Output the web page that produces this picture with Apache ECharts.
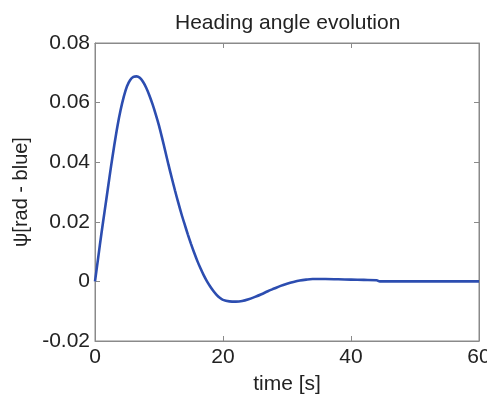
<!DOCTYPE html>
<html>
<head>
<meta charset="utf-8">
<script src="https://cdn.jsdelivr.net/npm/echarts@6/dist/echarts.min.js"></script>
<style>
html,body{margin:0;padding:0;background:#fff;}
#chart{width:487px;height:398px;}
</style>
</head>
<body>
<div id="chart"></div>
<script>
var titleText = 'Heading angle evolution';
var xAxisTitle = 'time [s]';
var yAxisTitle = 'ψ[rad - blue]';
var xTickValues = [0, 20, 40, 60];
var yTickValues = [-0.02, 0, 0.02, 0.04, 0.06, 0.08];

var timeValues = [0, 0.5, 1, 1.5, 2, 2.5, 3, 3.5, 4, 4.5, 5, 5.5, 6, 6.5, 7, 7.5, 8, 8.5, 9, 9.5, 10, 10.5, 11, 11.5, 12, 12.5, 13, 13.5, 14, 14.5, 15, 15.5, 16, 16.5, 17, 17.5, 18, 18.5, 19, 19.5, 20, 21, 22, 23, 24, 25, 26, 27, 28, 29, 30, 31, 32, 33, 34, 36, 38, 40, 42, 44, 44.5, 50, 55, 60];
var psiValues = [0, 0.008, 0.016, 0.0235, 0.031, 0.0385, 0.0455, 0.052, 0.0575, 0.062, 0.0655, 0.0676, 0.0686, 0.0688, 0.0683, 0.067, 0.065, 0.0624, 0.0594, 0.056, 0.0523, 0.048, 0.0435, 0.039, 0.0347, 0.0305, 0.0265, 0.0227, 0.0192, 0.0158, 0.0126, 0.0096, 0.0068, 0.0043, 0.002, 0.0, -0.0017, -0.0032, -0.0045, -0.0055, -0.0062, -0.0067, -0.0068, -0.0066, -0.006, -0.0052, -0.0043, -0.0033, -0.0024, -0.0015, -0.0008, -0.0002, 0.0003, 0.0006, 0.0008, 0.0008, 0.0007, 0.0006, 0.0005, 0.0004, 0, 0, 0, 0];

var lineData = timeValues.map(function (t, i) { return [t, psiValues[i]]; });

var axisGray = '#8a8a8a';
var textColor = '#222';
var fontFam = '"Liberation Sans", Arial, Helvetica, sans-serif';

function yFmt(v) {
  var r = Math.round(v * 100) / 100;
  if (r === 0) return '0';
  return r.toFixed(2);
}

var chart = echarts.init(document.getElementById('chart'), null, {renderer: 'canvas'});
chart.setOption({
  animation: false,
  backgroundColor: '#fff',
  title: {
    text: titleText,
    left: 170, top: 8,
    textStyle: {fontFamily: fontFam, fontSize: 21, fontWeight: 'normal', color: textColor}
  },
  grid: {
    left: 95, right: 8, top: 43, bottom: 57,
    outerBoundsMode: 'none', containLabel: false,
    show: true, borderColor: axisGray, borderWidth: 1, backgroundColor: '#fff'
  },
  xAxis: [{
    type: 'value', min: xTickValues[0], max: xTickValues[xTickValues.length - 1], interval: 20,
    position: 'bottom',
    name: xAxisTitle, nameLocation: 'middle', nameGap: 33,
    nameTextStyle: {fontFamily: fontFam, fontSize: 21, color: textColor},
    axisLine: {show: true, onZero: false, lineStyle: {color: axisGray, width: 1}},
    axisTick: {show: true, inside: true, length: 5, lineStyle: {color: axisGray}},
    axisLabel: {fontFamily: fontFam, fontSize: 21, color: textColor, margin: 6},
    splitLine: {show: false}
  }, {
    type: 'value', min: xTickValues[0], max: xTickValues[xTickValues.length - 1], interval: 20,
    position: 'top',
    axisLine: {show: true, onZero: false, lineStyle: {color: axisGray, width: 1}},
    axisTick: {show: true, inside: true, length: 5, lineStyle: {color: axisGray}},
    axisLabel: {show: false},
    splitLine: {show: false}
  }],
  yAxis: [{
    type: 'value', min: yTickValues[0], max: yTickValues[yTickValues.length - 1], interval: 0.02,
    position: 'left',
    name: yAxisTitle, nameLocation: 'middle', nameGap: 55, nameRotate: 90,
    nameTextStyle: {fontFamily: fontFam, fontSize: 20, color: textColor},
    axisLine: {show: true, onZero: false, lineStyle: {color: axisGray, width: 1}},
    axisTick: {show: true, inside: true, length: 5, lineStyle: {color: axisGray}},
    axisLabel: {fontFamily: fontFam, fontSize: 21, color: textColor, margin: 5, formatter: yFmt},
    splitLine: {show: false}
  }, {
    type: 'value', min: yTickValues[0], max: yTickValues[yTickValues.length - 1], interval: 0.02,
    position: 'right',
    axisLine: {show: true, onZero: false, lineStyle: {color: axisGray, width: 1}},
    axisTick: {show: true, inside: true, length: 5, lineStyle: {color: axisGray}},
    axisLabel: {show: false},
    splitLine: {show: false}
  }],
  series: [{
    type: 'line',
    data: lineData,
    xAxisIndex: 0, yAxisIndex: 0,
    smooth: 0.3,
    showSymbol: false,
    lineStyle: {color: '#2c4db0', width: 2.6}
  }]
});
</script>
</body>
</html>
